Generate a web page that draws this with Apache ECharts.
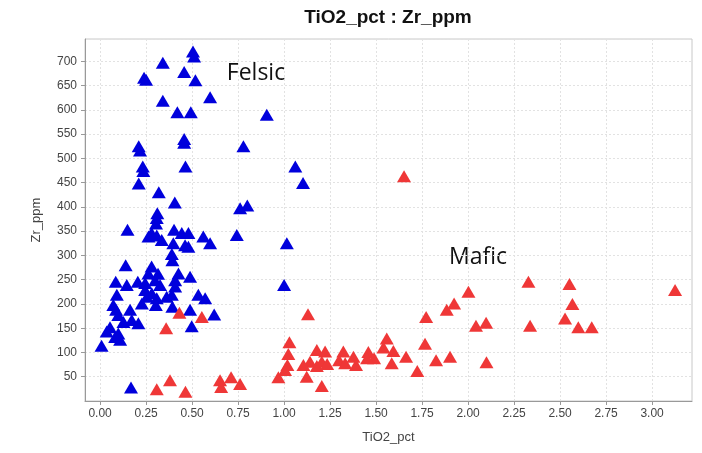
<!DOCTYPE html>
<html>
<head>
<meta charset="utf-8">
<script src="https://cdn.jsdelivr.net/npm/echarts@6/dist/echarts.min.js"></script>
<style>
  html, body { margin: 0; padding: 0; background: #fff; }
  #chart { width: 702px; height: 453px; }
</style>
</head>
<body>
<div id="chart"></div>
<script>
// TiO2_pct (x) / Zr_ppm (y)
const felsic = [
  [0.505, 720], [0.511, 710], [0.341, 697], [0.457, 678], [0.239, 666], [0.25, 662],
  [0.518, 661], [0.341, 619], [0.598, 626], [0.42, 595], [0.493, 595], [0.906, 590],
  [0.457, 540], [0.457, 532], [0.21, 525], [0.217, 516], [0.779, 525], [0.232, 483],
  [0.235, 474], [0.464, 483], [1.061, 483], [1.103, 449], [0.21, 448], [0.319, 430],
  [0.406, 409], [0.761, 397], [0.80, 403], [0.311, 387], [0.308, 377], [0.304, 366],
  [0.149, 353], [0.28, 346], [0.308, 341], [0.263, 339], [0.402, 353], [0.444, 346],
  [0.48, 346], [0.561, 339], [0.598, 325], [0.743, 342], [1.015, 325], [0.335, 332],
  [0.398, 325], [0.462, 321], [0.48, 318], [0.39, 303], [0.393, 290], [0.139, 280],
  [0.28, 277], [0.263, 263], [0.315, 262], [0.299, 249], [0.326, 239], [0.245, 243],
  [0.426, 263], [0.489, 256], [0.408, 249], [0.085, 246], [0.145, 239], [0.205, 246],
  [0.408, 236], [0.39, 219], [0.362, 215], [0.245, 229], [0.281, 222], [0.308, 212],
  [0.254, 215], [0.534, 219], [0.571, 212], [1.0, 239], [0.091, 219], [0.072, 198],
  [0.087, 188], [0.227, 201], [0.303, 198], [0.393, 194], [0.489, 188], [0.62, 178],
  [0.099, 177], [0.163, 188], [0.127, 163], [0.172, 167], [0.208, 160], [0.498, 154],
  [0.054, 152], [0.099, 139], [0.036, 143], [0.082, 132], [0.109, 126], [0.008, 114],
  [0.168, 28]
];
const mafic = [
  [0.308, 24], [0.38, 43], [0.464, 19], [0.431, 182], [0.553, 173], [0.359, 150],
  [0.652, 43], [0.712, 49], [0.761, 35], [0.658, 29], [1.029, 121], [1.023, 97],
  [1.018, 74], [1.005, 64], [0.969, 49], [1.123, 50], [1.205, 31], [1.13, 179],
  [1.178, 105], [1.223, 102], [1.141, 81], [1.105, 74], [1.178, 72], [1.205, 81],
  [1.234, 76], [1.322, 102], [1.299, 84], [1.377, 91], [1.332, 78], [1.391, 74],
  [1.458, 101], [1.489, 88], [1.451, 88], [1.558, 129], [1.54, 110], [1.594, 103],
  [1.585, 78], [1.663, 91], [1.724, 62], [1.766, 118], [1.772, 173], [1.826, 84],
  [1.902, 91], [1.884, 188], [1.924, 201], [2.043, 155], [2.098, 161], [2.10, 80],
  [2.002, 225], [2.328, 246], [2.337, 155], [2.551, 241], [2.567, 200], [2.527, 170],
  [2.599, 152], [2.672, 152], [3.125, 229], [1.652, 463]
];
const xTicks = [0, 0.25, 0.5, 0.75, 1, 1.25, 1.5, 1.75, 2, 2.25, 2.5, 2.75, 3];

let chart = echarts.init(document.getElementById('chart'), null, { renderer: 'canvas' });

const labelFont = { color: '#444', fontSize: 12, fontFamily: 'Liberation Sans, Arial, sans-serif' };

chart.setOption({
  backgroundColor: '#fff',
  animation: false,
  grid: { left: 85, right: 10, top: 39, bottom: 52, show: true, borderColor: '#c8c8c8', borderWidth: 1 },
  xAxis: {
    type: 'value',
    min: -0.082,
    max: 3.217,
    name: 'TiO2_pct',
    nameLocation: 'middle',
    nameGap: 30,
    nameTextStyle: { color: '#444', fontSize: 13, fontFamily: 'Liberation Sans, Arial, sans-serif' },
    axisLine: { show: true, onZero: false, lineStyle: { color: '#999' } },
    axisTick: { show: true, length: 4, lineStyle: { color: '#999' }, customValues: xTicks },
    axisLabel: Object.assign({ margin: 7, customValues: xTicks, formatter: v => v.toFixed(2) }, labelFont),
    splitLine: { show: true, lineStyle: { color: '#e2e2e2', type: [2, 2] } }
  },
  yAxis: {
    type: 'value',
    min: 0,
    max: 746,
    interval: 50,
    name: 'Zr_ppm',
    nameLocation: 'middle',
    nameGap: 42,
    nameTextStyle: { color: '#444', fontSize: 13, fontFamily: 'Liberation Sans, Arial, sans-serif' },
    axisLine: { show: true, onZero: false, lineStyle: { color: '#999' } },
    axisTick: { show: true, length: 4, lineStyle: { color: '#999' } },
    axisLabel: Object.assign({ margin: 8, showMinLabel: false, showMaxLabel: false }, labelFont),
    splitLine: { show: true, lineStyle: { color: '#e2e2e2', type: [2, 2] } }
  },
  series: [
    {
      name: 'Felsic',
      type: 'scatter',
      symbol: 'triangle',
      symbolSize: [14, 12],
      itemStyle: { color: '#0000dc', opacity: 1 },
      data: felsic
    },
    {
      name: 'Mafic',
      type: 'scatter',
      symbol: 'triangle',
      symbolSize: [14, 12],
      itemStyle: { color: '#ef3737', opacity: 1 },
      data: mafic
    }
  ],
  graphic: [
    {
      type: 'text', x: 388, y: 18,
      style: { text: 'TiO2_pct : Zr_ppm', fill: '#111', font: 'bold 19px "Liberation Sans", Arial, sans-serif', align: 'center', verticalAlign: 'middle' }
    },
    {
      type: 'text', x: 256, y: 73,
      style: { text: 'Felsic', fill: '#111', font: '23px "Open Sans", sans-serif', align: 'center', verticalAlign: 'middle' }
    },
    {
      type: 'text', x: 478, y: 257,
      style: { text: 'Mafic', fill: '#111', font: '23px "Open Sans", sans-serif', align: 'center', verticalAlign: 'middle' }
    }
  ]
});
</script>
</body>
</html>
